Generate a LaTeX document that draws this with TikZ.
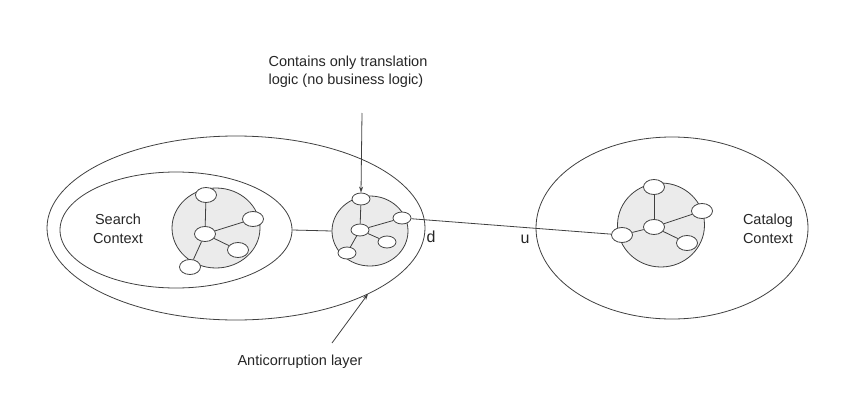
\documentclass[tikz,border=0pt]{standalone}
\usepackage{fontspec}
\setmainfont{Liberation Sans}
\usetikzlibrary{shapes.geometric,arrows.meta}

\begin{document}
\begin{tikzpicture}[x=1pt, y=-1pt,
  ctx/.style={draw=black!75, line width=0.8pt, ellipse, inner sep=0pt},
  cluster/.style={draw=black!75, line width=0.8pt, fill=black!8, ellipse, inner sep=0pt},
  dot/.style={draw=black!75, line width=0.8pt, fill=white, ellipse, inner sep=0pt,
    minimum width=21pt, minimum height=15pt},
  smalldot/.style={dot, minimum width=18pt, minimum height=12pt},
  link/.style={black!75, line width=0.8pt},
  lbl/.style={font=\fontsize{14.5}{18.5}\selectfont, text=black!85},
  side/.style={font=\fontsize{16}{18}\selectfont, text=black!85}]

  \useasboundingbox (0,0) rectangle (845,412);

  % Contextos
  \node[ctx, minimum width=378pt, minimum height=184pt] (acl) at (236,228) {};
  \node[ctx, minimum width=232pt, minimum height=116pt] (search) at (176,230) {};
  \node[ctx, minimum width=272pt, minimum height=182pt] (catalog) at (672,228) {};

  % Textos de los contextos
  \node[lbl, align=center] (searchlbl) at (118,229) {Search\\Context};
  \node[lbl, align=center] (cataloglbl) at (768,229) {Catalog\\Context};

  % Grafo del contexto de busqueda
  \node[cluster, minimum width=88pt, minimum height=80pt] (sc) at (216,228) {};
  \node[dot] (sT) at (206,195) {};
  \node[dot] (sR) at (253,219) {};
  \node[dot] (sC) at (205,234) {};
  \node[dot] (sLR) at (238,250) {};
  \node[dot] (sBL) at (190,267) {};
  \foreach \n in {sT,sR,sLR,sBL}
    \draw[link] (sC) -- (\n);

  % Grafo de la capa anticorrupcion
  \node[cluster, minimum width=76pt, minimum height=70pt] (ac) at (370,231) {};
  \node[smalldot] (aT) at (361,199) {};
  \node[smalldot] (aR) at (402,218) {};
  \node[smalldot] (aC) at (360,230) {};
  \node[smalldot] (aLR) at (387,242) {};
  \node[smalldot] (aBL) at (347,253) {};
  \foreach \n in {aT,aR,aLR,aBL}
    \draw[link] (aC) -- (\n);

  % Grafo del contexto de catalogo
  \node[cluster, minimum width=87pt, minimum height=84pt] (cc) at (661,225) {};
  \node[dot] (cT) at (654,187) {};
  \node[dot] (cR) at (702,211) {};
  \node[dot] (cC) at (654,227) {};
  \node[dot] (cLR) at (687,243) {};
  \node[dot] (cL) at (622,235) {};
  \foreach \n in {cT,cR,cLR,cL}
    \draw[link] (cC) -- (\n);

  % Conexiones
  \draw[link] (search.east) -- (ac.west);
  \draw[link] (aR) -- (cL);
  \node[side] (dlbl) at (431,237) {d};
  \node[side] (ulbl) at (525,239) {u};

  % Notas
  \node[lbl, align=left] (note) at (348,72) {Contains only translation\\logic (no business logic)};
  \coordinate (noteTail) at (362,113);
  \draw[link, -{Stealth[length=6pt,width=4pt]}] (noteTail) -- (aT.north);

  \node[lbl] (acllbl) at (300,362) {Anticorruption layer};
  \coordinate (aclTail) at (332,343);
  \coordinate (aclTip) at (368,294);
  \draw[link, -{Stealth[length=6pt,width=4pt]}] (aclTail) -- (aclTip);
\end{tikzpicture}
\end{document}
